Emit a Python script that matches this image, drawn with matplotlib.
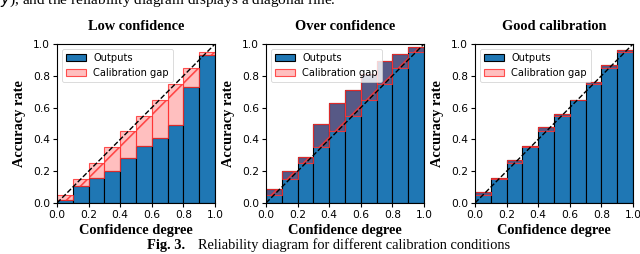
"""Reliability diagrams for three calibration conditions (Fig. 3)."""

import numpy as np
import matplotlib
matplotlib.use("Agg")
import matplotlib.pyplot as plt

# bin left edges and bin centres (expected accuracy)
bin_edges = [0.0, 0.1, 0.2, 0.3, 0.4, 0.5, 0.6, 0.7, 0.8, 0.9]
bin_centres = [0.05, 0.15, 0.25, 0.35, 0.45, 0.55, 0.65, 0.75, 0.85, 0.95]

# observed accuracy per bin
low_conf_acc = [0.02, 0.11, 0.16, 0.20, 0.28, 0.36, 0.41, 0.49, 0.73, 0.93]
over_conf_acc = [0.09, 0.20, 0.29, 0.50, 0.63, 0.71, 0.81, 0.89, 0.94, 0.98]
good_cal_acc = [0.07, 0.16, 0.27, 0.36, 0.48, 0.56, 0.65, 0.76, 0.87, 0.96]

titles = ["Low confidence", "Over confidence", "Good calibration"]
ticks = [0.0, 0.2, 0.4, 0.6, 0.8, 1.0]

SERIF = "Liberation Serif"

# rendered at 200 dpi so the hatch looks as sparse as in the paper
plt.rcParams["hatch.linewidth"] = 0.6
plt.rcParams["hatch.color"] = (1, 0.35, 0.35, 1)
plt.rcParams["axes.linewidth"] = 0.4

fig = plt.figure(figsize=(3.2, 1.27), dpi=200)

W, H = 640.0, 254.0
lefts = [57, 266, 475]
for left, title, acc in zip(lefts, titles, [low_conf_acc, over_conf_acc, good_cal_acc]):
    ax = fig.add_axes([left / W, 1 - 203 / H, 158 / W, 159 / H])
    acc = np.array(acc)
    centres = np.array(bin_centres)
    ax.bar(bin_edges, acc, width=0.1, align="edge", color="#1f77b4",
           edgecolor="black", linewidth=0.4, label="Outputs")
    ax.bar(bin_edges, centres - acc, bottom=acc, width=0.1, align="edge",
           facecolor=(1, 0, 0, 0.25), edgecolor=(1, 0.2, 0.2, 0.85), linewidth=0.4,
           hatch="/", label="Calibration gap")
    ax.plot([0, 1], [0, 1], "--", color="black", linewidth=0.5)
    ax.set_xlim(0, 1)
    ax.set_ylim(0, 1)
    ax.set_xticks(ticks)
    ax.set_yticks(ticks)
    ax.tick_params(labelsize=3.85, length=1.4, width=0.4, pad=1.0)
    ax.set_title(title, fontsize=5.2, fontweight="bold", family=SERIF, pad=4.9)
    ax.set_xlabel("Confidence degree", fontsize=5.2, fontweight="bold",
                  family=SERIF, labelpad=1.5)
    ax.set_ylabel("Accuracy rate", fontsize=5.2, fontweight="bold",
                  family=SERIF, labelpad=2.5)
    leg = ax.legend(loc="upper left", fontsize=3.55)
    leg.get_frame().set_linewidth(0.3)

# surrounding paper text (the line above is cut by the crop, as in the paper scan)
fig.text(0.0, 1 - 5 / H, r"$\hat{y}$), and the reliability diagram displays a diagonal line.",
         fontsize=5.5, family=SERIF, ha="left", va="baseline")
fig.text(147 / W, 1 - 249 / H, "Fig. 3.", fontsize=5.2, family=SERIF,
         fontweight="bold", ha="left", va="baseline")
fig.text(198 / W, 1 - 249 / H,
         "Reliability diagram for different calibration conditions",
         fontsize=5.2, family=SERIF, ha="left", va="baseline")

fig.savefig("out.png", dpi=200)
